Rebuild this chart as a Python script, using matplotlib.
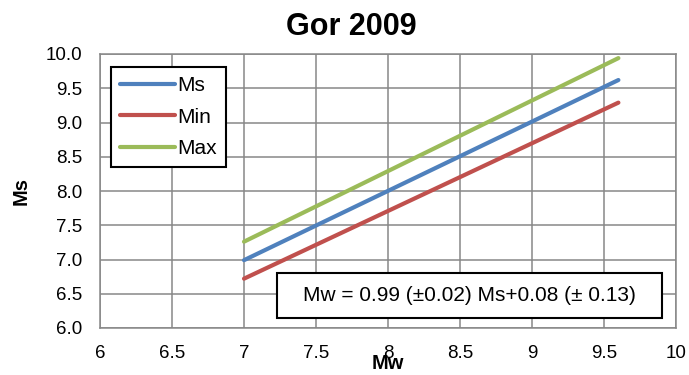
import numpy as np
import matplotlib
matplotlib.use("Agg")
import matplotlib.pyplot as plt
from matplotlib.patches import Rectangle

plt.rcParams['font.family'] = ['Liberation Sans', 'DejaVu Sans']

# Mw range of the relation and the three Ms curves (end points)
mw = [7.0, 9.6]
ms_mid = [6.99, 9.62]
ms_min = [6.72, 9.29]
ms_max = [7.26, 9.94]

series = [('Ms', ms_mid, '#4F81BD'),
          ('Min', ms_min, '#C0504D'),
          ('Max', ms_max, '#9BBB59')]

x_ticks = [6, 6.5, 7, 7.5, 8, 8.5, 9, 9.5, 10]
x_tick_labels = ['6', '6.5', '7', '7.5', '8', '8.5', '9', '9.5', '10']
y_ticks = np.arange(6.0, 10.01, 0.5)

eq_text = 'Mw = 0.99 (\u00b10.02) Ms+0.08 (\u00b1 0.13)'

fig = plt.figure(figsize=(6.89, 3.75), dpi=100, facecolor='white')
ax = fig.add_axes([100/689, 1 - 328/375, 576/689, 274/375])

for name, vals, col in series:
    ax.plot(mw, vals, color=col, lw=3.0, solid_capstyle='round', label=name)

ax.set_xlim(6, 10)
ax.set_ylim(6, 10)
ax.set_xticks(x_ticks)
ax.set_xticklabels(x_tick_labels)
ax.set_yticks(y_ticks)
ax.set_yticklabels(['%.1f' % v for v in y_ticks])
ax.tick_params(length=0, labelsize=13.5)
ax.tick_params(axis='x', pad=12.5)
ax.tick_params(axis='y', pad=12.5)

ax.grid(True, color='#878787', lw=1.1)
ax.set_axisbelow(True)
for s in ax.spines.values():
    s.set_color('#878787')
    s.set_linewidth(1.1)

ax.set_xlabel('Mw', fontsize=14.5, fontweight='bold', labelpad=-6)
ax.set_ylabel('Ms', fontsize=14.5, fontweight='bold', labelpad=11)

fig.text(351/689, 1 - 27/375, 'Gor 2009', fontsize=22, fontweight='bold',
         ha='center', va='center')

leg = ax.legend(loc='upper left', bbox_to_anchor=(110.7/689, 1 - 66.7/375),
                bbox_transform=fig.transFigure, fontsize=15, handlelength=2.65,
                handletextpad=0.1, labelspacing=0.6, borderpad=0.45,
                borderaxespad=0, fancybox=False, framealpha=1)
leg.get_frame().set_edgecolor('black')
leg.get_frame().set_linewidth(1.5)

# equation box
x0, x1 = (276.7 - 100) / 576, (662.3 - 100) / 576
y0, y1 = (328 - 318.3) / 274, (328 - 272.7) / 274
ax.add_patch(Rectangle((x0, y0), x1 - x0, y1 - y0, transform=ax.transAxes,
                       facecolor='white', edgecolor='black', lw=1.5, zorder=5))
ax.text((x0 + x1) / 2, (y0 + y1) / 2, eq_text, transform=ax.transAxes,
        fontsize=15, ha='center', va='center', zorder=6)

fig.savefig('out.png', dpi=100)
